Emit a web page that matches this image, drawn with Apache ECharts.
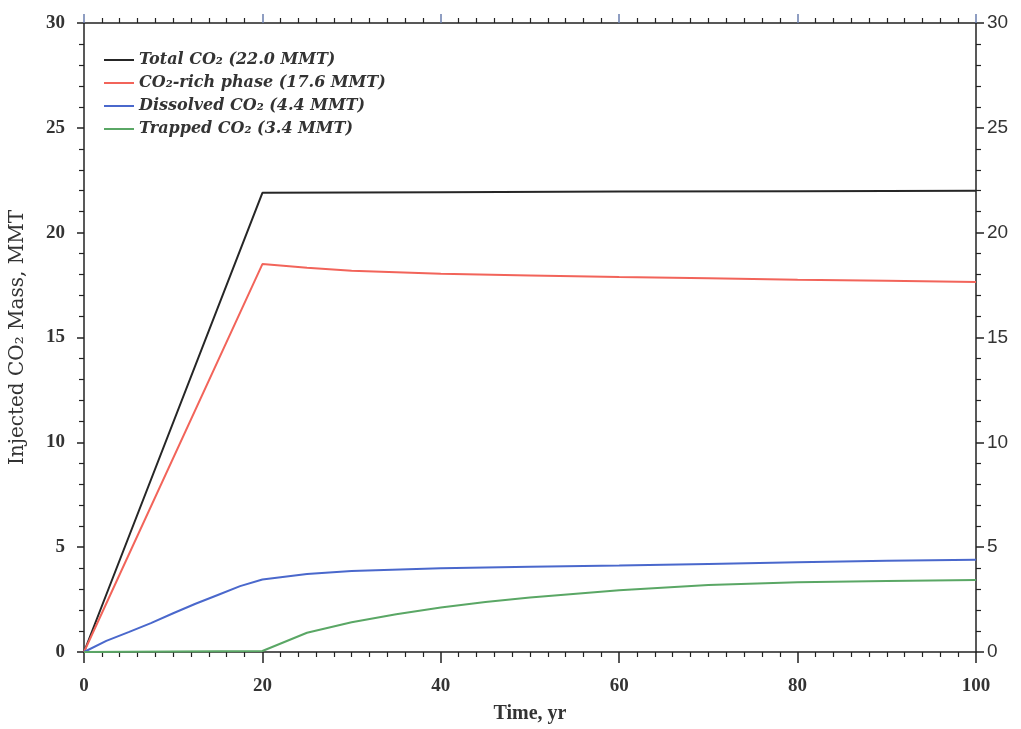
<!DOCTYPE html>
<html>
<head>
<meta charset="utf-8">
<script src="https://cdn.jsdelivr.net/npm/echarts@6/dist/echarts.min.js"></script>
<style>
html,body{margin:0;padding:0;background:#fff;}
#chart{width:1021px;height:729px;}
</style>
</head>
<body>
<div id="chart"></div>
<script>
// ---- data ----
var seriesNames = ['Total CO₂ (22.0 MMT)', 'CO₂-rich phase (17.6 MMT)', 'Dissolved CO₂ (4.4 MMT)', 'Trapped CO₂ (3.4 MMT)'];

var totalTime  = [0, 20, 40, 60, 80, 100];
var totalMass  = [0, 21.9, 21.93, 21.96, 21.98, 22.0];

var richTime   = [0, 20, 25, 30, 40, 50, 60, 70, 80, 90, 100];
var richMass   = [0, 18.5, 18.33, 18.18, 18.04, 17.96, 17.88, 17.82, 17.76, 17.71, 17.65];

var dissTime   = [0, 2.5, 5, 7.5, 10, 12.5, 15, 17.5, 20, 25, 30, 40, 50, 60, 70, 80, 90, 100];
var dissMass   = [0, 0.53, 0.95, 1.38, 1.85, 2.3, 2.72, 3.14, 3.46, 3.72, 3.86, 4.0, 4.07, 4.12, 4.2, 4.28, 4.35, 4.4];

var trapTime   = [0, 10, 20, 25, 30, 35, 40, 45, 50, 60, 70, 80, 90, 100];
var trapMass   = [0, 0.02, 0.05, 0.92, 1.42, 1.8, 2.12, 2.38, 2.6, 2.95, 3.2, 3.33, 3.39, 3.43];

var yTicks = [0, 5, 10, 15, 20, 25, 30];
var xTicks = [0, 20, 40, 60, 80, 100];

var colors = ['#262626', '#f2645a', '#4a68cc', '#5aa765'];

function pairs(t, v) { return t.map(function (x, i) { return [x, v[i]]; }); }

var chart = echarts.init(document.getElementById('chart'), null, {renderer: 'canvas'});

var serifFont = '"Liberation Serif", "DejaVu Serif", serif';
var wideSerif = '"DejaVu Serif", "Liberation Serif", serif';
var sansFont = '"Liberation Sans", Arial, sans-serif';

function lineSeries(name, data, color) {
  return {
    name: name, type: 'line', data: data, showSymbol: false, symbol: 'none',
    xAxisIndex: 0, yAxisIndex: 0,
    lineStyle: {color: color, width: 2}, itemStyle: {color: color},
    animation: false, z: 3
  };
}

var option = {
  backgroundColor: '#ffffff',
  animation: false,
  grid: {left: 81, right: 45, top: 23, bottom: 73, containLabel: false},
  legend: {
    orient: 'vertical', left: 99, top: 47,
    icon: 'rect', itemWidth: 30, itemHeight: 2, itemGap: 7,
    textStyle: {fontFamily: wideSerif, fontStyle: 'italic', fontWeight: 'bold', fontSize: 16, color: '#333'},
    data: seriesNames
  },
  xAxis: [{
    type: 'value', min: 0, max: 100, interval: 20, position: 'bottom',
    name: 'Time, yr', nameLocation: 'middle', nameGap: 52,
    nameTextStyle: {fontFamily: serifFont, fontWeight: 'bold', fontSize: 20, color: '#333'},
    axisLine: {show: true, onZero: false, lineStyle: {color: '#222', width: 1.5}},
    axisTick: {show: true, inside: false, length: 11, lineStyle: {color: '#222', width: 1.5}},
    minorTick: {show: true, splitNumber: 10, length: 5, lineStyle: {color: '#222', width: 1.2}},
    axisLabel: {fontFamily: serifFont, fontWeight: 'bold', fontSize: 19, color: '#333', margin: 25,
      formatter: function (v) { return xTicks.indexOf(v) >= 0 ? String(v) : ''; }},
    splitLine: {show: false}
  }, {
    type: 'value', min: 0, max: 100, interval: 20, position: 'top',
    axisLine: {show: true, onZero: false, lineStyle: {color: '#222', width: 1.5}},
    axisTick: {show: true, inside: false, length: 9, lineStyle: {color: '#6b7fae', width: 1.5}},
    minorTick: {show: true, splitNumber: 10, length: 5, lineStyle: {color: '#222', width: 1.2}},
    axisLabel: {show: false},
    splitLine: {show: false}
  }],
  yAxis: [{
    type: 'value', min: 0, max: 30, interval: 5, position: 'left',
    name: 'Injected CO₂ Mass, MMT', nameLocation: 'middle', nameGap: 56, nameRotate: 90,
    nameTextStyle: {fontFamily: wideSerif, fontWeight: 'normal', fontSize: 20, color: '#333'},
    axisLine: {show: true, onZero: false, lineStyle: {color: '#222', width: 1.5}},
    axisTick: {show: true, inside: false, length: 7, lineStyle: {color: '#222', width: 1.5}},
    minorTick: {show: true, splitNumber: 5, length: 5, lineStyle: {color: '#222', width: 1.2}},
    axisLabel: {fontFamily: serifFont, fontWeight: 'bold', fontSize: 19, color: '#333', margin: 19,
      formatter: function (v) { return yTicks.indexOf(v) >= 0 ? String(v) : ''; }},
    splitLine: {show: false}
  }, {
    type: 'value', min: 0, max: 30, interval: 5, position: 'right',
    axisLine: {show: true, onZero: false, lineStyle: {color: '#222', width: 1.5}},
    axisTick: {show: true, inside: false, length: 8, lineStyle: {color: '#222', width: 1.5}},
    minorTick: {show: true, splitNumber: 5, length: 5, lineStyle: {color: '#222', width: 1.2}},
    axisLabel: {fontFamily: sansFont, fontSize: 19, color: '#333', margin: 11,
      formatter: function (v) { return yTicks.indexOf(v) >= 0 ? String(v) : ''; }},
    splitLine: {show: false}
  }],
  series: [
    lineSeries(seriesNames[0], pairs(totalTime, totalMass), colors[0]),
    lineSeries(seriesNames[1], pairs(richTime, richMass), colors[1]),
    lineSeries(seriesNames[2], pairs(dissTime, dissMass), colors[2]),
    lineSeries(seriesNames[3], pairs(trapTime, trapMass), colors[3])
  ]
};

chart.setOption(option);
</script>
</body>
</html>
